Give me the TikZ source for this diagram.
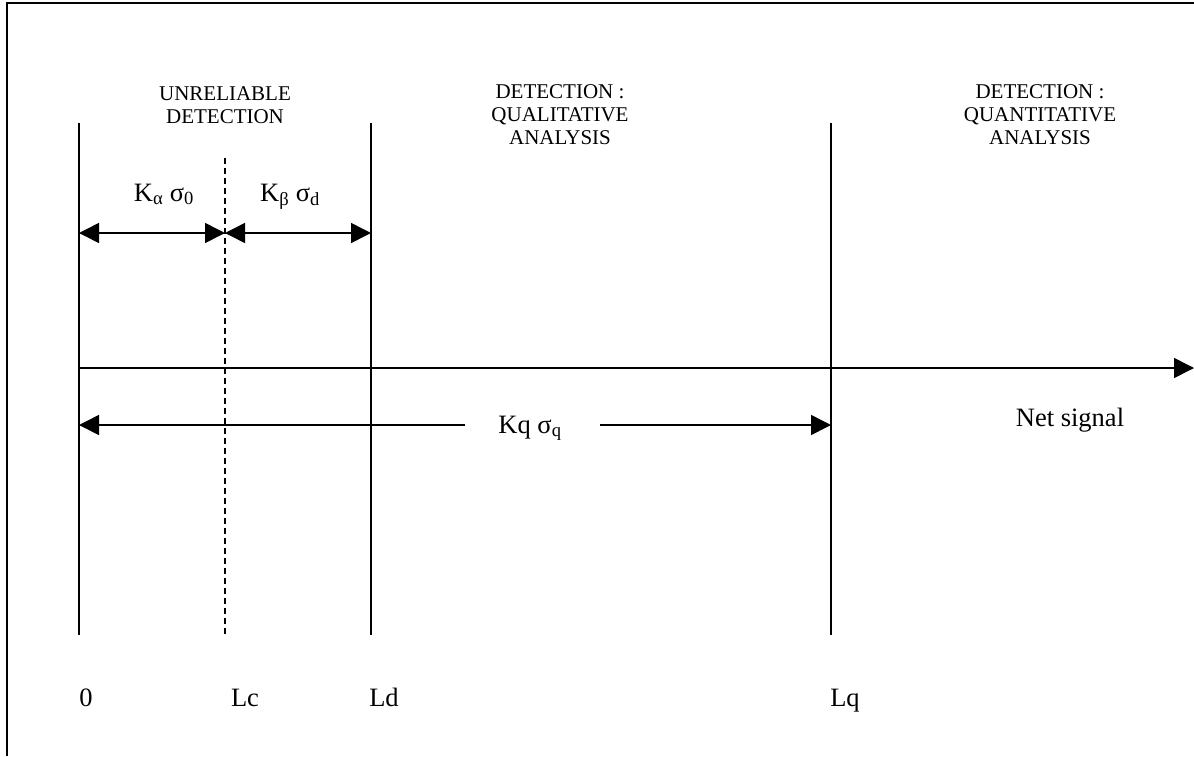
\documentclass[tikz,border=0pt]{standalone}
\usepackage{fontspec}
\setmainfont{Liberation Serif}
\usetikzlibrary{arrows.meta}
\begin{document}
\begin{tikzpicture}[x=1pt,y=-1pt,
  ln/.style={line width=1.5pt},
  frame/.style={line width=2.2pt},
  dashln/.style={line width=1.3pt, dash pattern=on 6pt off 4pt},
  onetip/.style={ln,-{Triangle[length=20pt,width=20pt]}},
  twotip/.style={ln,{Triangle[length=20pt,width=20pt]}-{Triangle[length=20pt,width=20pt]}},
  lefttip/.style={ln,{Triangle[length=20pt,width=20pt]}-},
  lab/.style={font=\fontsize{26.5}{30}\selectfont, inner sep=0pt},
  botlab/.style={lab, anchor=base},
  toplab/.style={font=\fontsize{21}{23}\selectfont, align=center, inner sep=0pt}]
\useasboundingbox (0,0) rectangle (1194,756);
% frame (left and top edges visible)
\coordinate (fbl) at (7,756);
\coordinate (ftl) at (7,3);
\coordinate (ftr) at (1194,3);
\draw[frame] (fbl) -- (ftl) -- (ftr);
% vertical limit lines
\coordinate (z0t) at (79,123);  \coordinate (z0b) at (79,635);
\coordinate (lct) at (225,158); \coordinate (lcb) at (225,635);
\coordinate (ldt) at (371,123); \coordinate (ldb) at (371,635);
\coordinate (lqt) at (831,123); \coordinate (lqb) at (831,635);
\draw[ln] (z0t) -- (z0b);
\draw[dashln] (lct) -- (lcb);
\draw[ln] (ldt) -- (ldb);
\draw[ln] (lqt) -- (lqb);
% net signal axis
\coordinate (ax0) at (79,368);
\coordinate (axe) at (1194,368);
\draw[onetip] (ax0) -- (axe);
% K alpha / K beta arrows
\coordinate (a0) at (79,233);
\coordinate (ac) at (225,233);
\coordinate (ad) at (371,233);
\draw[twotip] (a0) -- (ac);
\draw[twotip] (ac) -- (ad);
% Kq arrow with gap for label
\coordinate (k0) at (79,425);
\coordinate (kl) at (465,425);
\coordinate (kr) at (600,425);
\coordinate (kq) at (831,425);
\draw[lefttip] (k0) -- (kl);
\draw[onetip] (kr) -- (kq);
% labels
\node[botlab] (lka) at (164,201) {K\textsubscript{α} σ\textsubscript{0}};
\node[botlab] (lkb) at (290,201) {K\textsubscript{β} σ\textsubscript{d}};
\node[botlab] (lkq) at (530,433) {Kq σ\textsubscript{q}};
\node[botlab] (lns) at (1070,426) {Net signal};
\node[botlab] (l0) at (86,706) {0};
\node[botlab] (llc) at (245,706) {Lc};
\node[botlab] (lld) at (384,706) {Ld};
\node[botlab] (llq) at (845,706) {Lq};
\node[toplab] (t1) at (225,105) {UNRELIABLE\\DETECTION};
\node[toplab] (t2) at (560,115) {DETECTION :\\QUALITATIVE\\ANALYSIS};
\node[toplab] (t3) at (1040,115) {DETECTION :\\QUANTITATIVE\\ANALYSIS};
\end{tikzpicture}
\end{document}
